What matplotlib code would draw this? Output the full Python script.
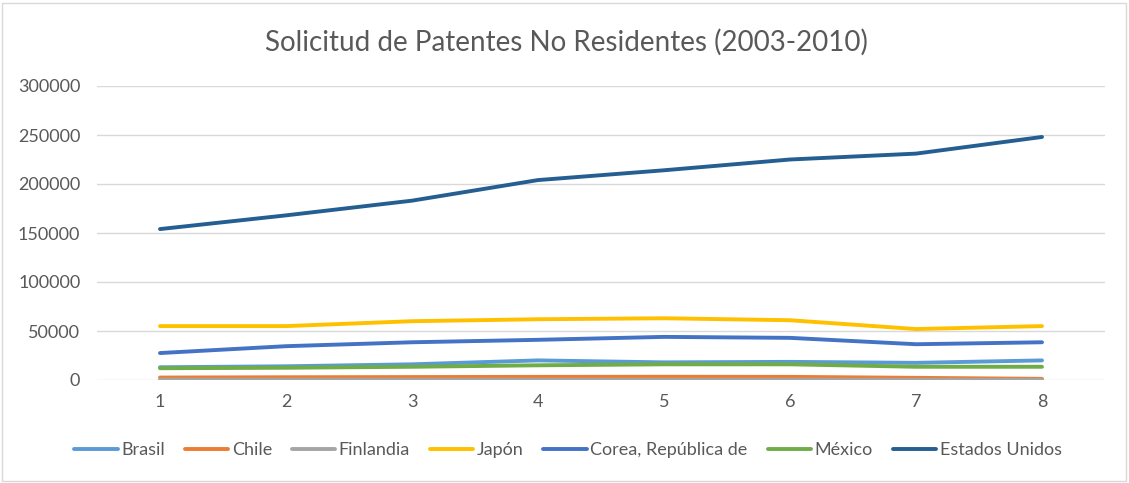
import numpy as np
import matplotlib.pyplot as plt
from matplotlib.patches import Rectangle

x = [1, 2, 3, 4, 5, 6, 7, 8]
brasil = [13000, 14000, 16000, 20000, 18000, 18500, 17500, 20000]
chile = [2500, 2800, 3000, 3200, 3300, 3200, 2200, 1200]
finlandia = [300, 300, 300, 300, 300, 300, 250, 200]
japon = [55000, 55000, 60000, 62000, 63000, 61000, 52000, 55000]
corea = [27500, 34500, 38500, 41000, 44000, 43000, 36500, 38500]
mexico = [12000, 12500, 13500, 15000, 16000, 16000, 13500, 13500]
eeuu = [154000, 168000, 183000, 204000, 214000, 225000, 231000, 248000]

series = [
    ("Brasil", brasil, "#5b9bd5"),
    ("Chile", chile, "#ed7d31"),
    ("Finlandia", finlandia, "#a5a5a5"),
    ("Japón", japon, "#ffc000"),
    ("Corea, República de", corea, "#4472c4"),
    ("México", mexico, "#70ad47"),
    ("Estados Unidos", eeuu, "#255e91"),
]

plt.rcParams['font.family'] = ['Lato', 'DejaVu Sans']
txt = '#595959'

fig = plt.figure(figsize=(11.29, 4.83), dpi=100)
ax = fig.add_axes([97/1129, 1 - 380/483, (1105-97)/1129, (380-86)/483])

for name, vals, c in series:
    ax.plot(x, vals, color=c, lw=2.8, label=name, solid_capstyle='round')

ax.set_xlim(0.5, 8.5)
ax.set_ylim(0, 300000)
ax.set_yticks(np.arange(0, 300001, 50000))
ax.set_xticks(x)
ax.grid(axis='y', color='#d9d9d9', lw=1)
ax.set_axisbelow(True)
for s in ax.spines.values():
    s.set_visible(False)
ax.tick_params(axis='both', length=0, colors=txt, labelsize=13)
ax.tick_params(axis='y', pad=12)
ax.tick_params(axis='x', pad=10)

fig.text(0.502, 1 - 42/483, "Solicitud de Patentes No Residentes (2003-2010)",
         ha='center', va='center', fontsize=20, color=txt)

leg = fig.legend(loc='center', bbox_to_anchor=(0.503, 1 - 450/483), ncol=7,
                 frameon=False, fontsize=13, handlelength=2.4, columnspacing=1.1,
                 handletextpad=0.2)
for t in leg.get_texts():
    t.set_color(txt)

fig.patches.append(Rectangle((0.002, 0.004), 0.995, 0.99, transform=fig.transFigure,
                             fill=False, edgecolor='#d9d9d9', lw=1))

fig.savefig("out.png", dpi=100)
